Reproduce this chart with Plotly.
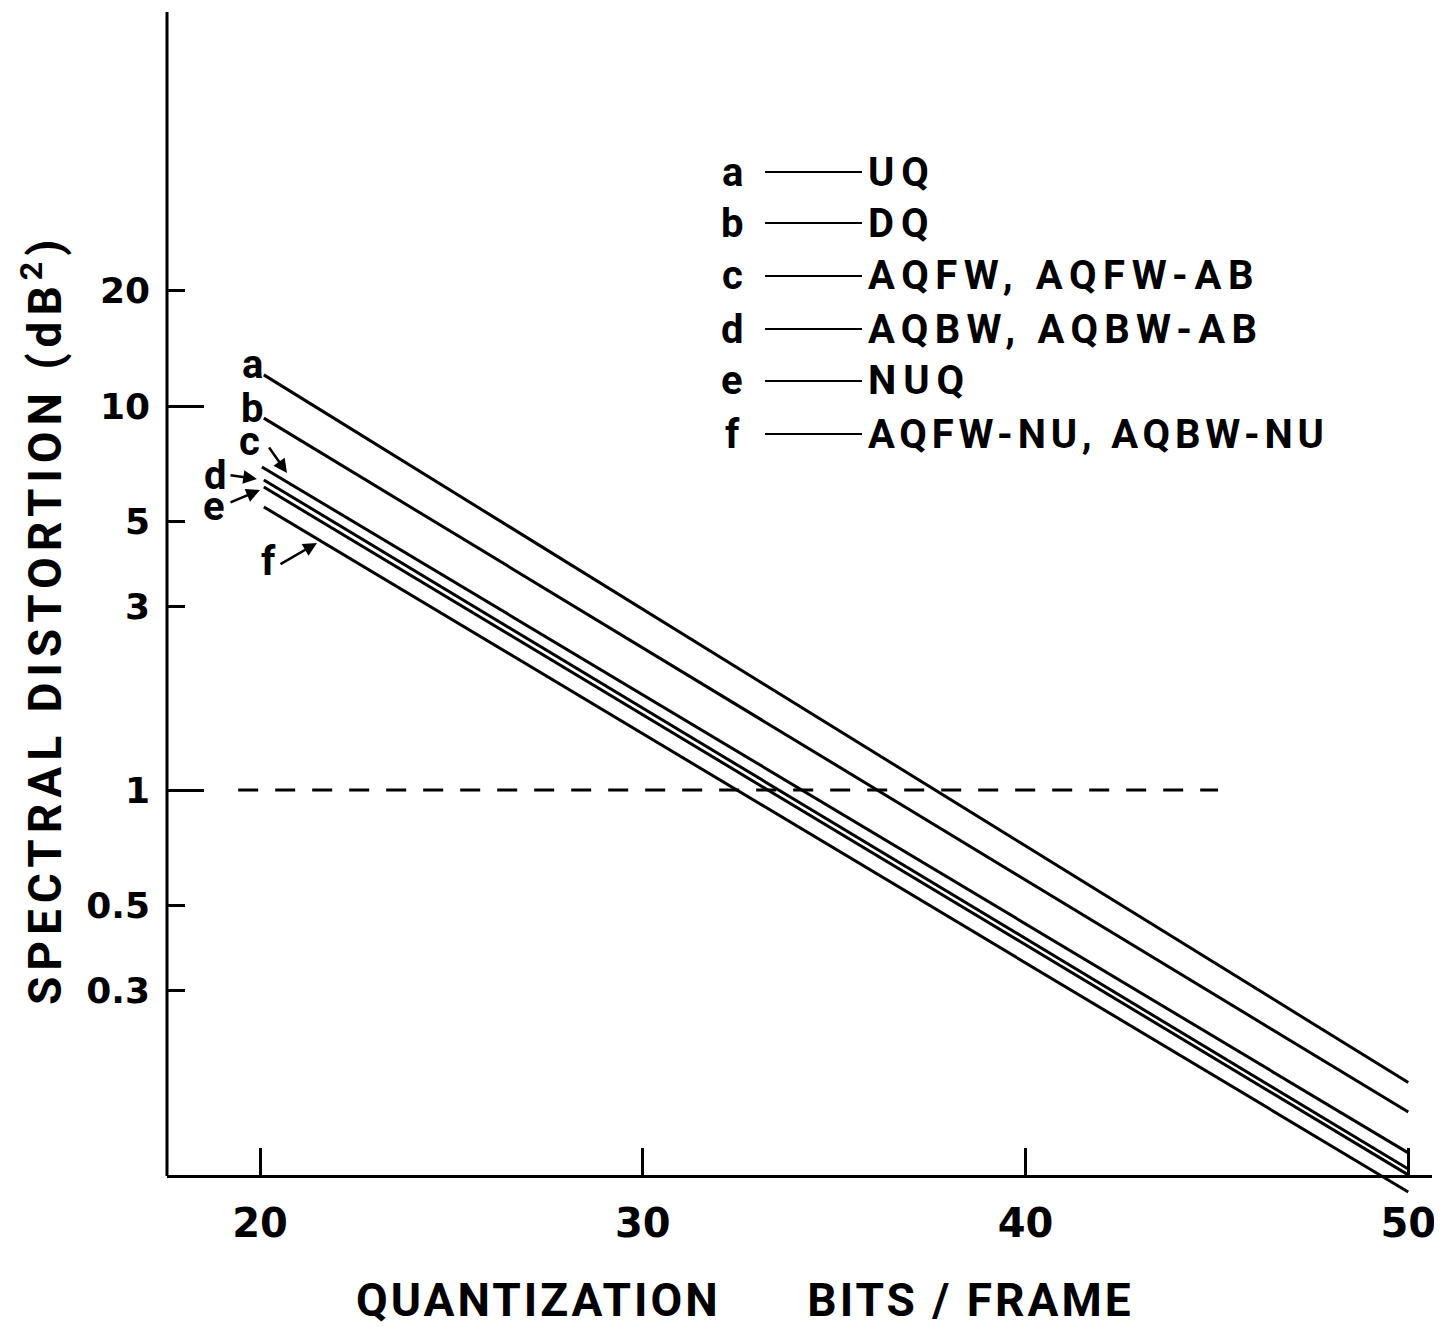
import math
import plotly.graph_objects as go

# ---------------- data ----------------
series_names = ["a", "b", "c", "d", "e", "f"]
series_x = [
    [20.1, 50.0],
    [20.1, 50.0],
    [20.05, 50.0],
    [20.1, 50.0],
    [20.1, 50.0],
    [20.1, 50.0],
]
series_y = [
    [12.05, 0.173],
    [9.3, 0.145],
    [6.94, 0.1135],
    [6.42, 0.103],
    [6.15, 0.0995],
    [5.46, 0.0898],
]
legend_letters = ["a", "b", "c", "d", "e", "f"]
legend_texts = ["UQ", "DQ", "AQFW, AQFW-AB", "AQBW, AQBW-AB", "NUQ", "AQFW-NU, AQBW-NU"]

ref_x = [19.43, 45.03]
ref_y = [1.0, 1.0]

x_tickvals = [20, 30, 40, 50]
x_ticktext = ["20", "30", "40", "50"]
y_tickvals = [0.3, 0.5, 1, 3, 5, 10, 20]
y_ticktext = ["0.3", "0.5", "1", "3", "5", "10", "20"]
y_long_ticks = [1, 10]

x_title = "QUANTIZATION\u00a0\u00a0\u00a0\u00a0\u00a0\u00a0BITS\u00a0/\u00a0FRAME"
y_title = "SPECTRAL\u00a0DISTORTION\u00a0(dB<sup>2</sup>)"

# ---------------- layout geometry ----------------
# the page body has an 8px margin, so screen coords = figure coords + 8
OFF = 8
W, H = 1442 - OFF, 1327 - OFF
PL, PR, PT, PB = 167, 1432, 12, 1195   # plot area in screen pixels
AXIS_Y_PX = 1176


def px(xp):
    return (xp - PL) / (PR - PL)


def py(yp):
    return (PB - yp) / (PB - PT)


X_RANGE = [17.57, 50.62]
Y_RANGE = [(790 - PB) / 384.0, (790 - PT) / 384.0]

TEXT_FONT = "Roboto, Liberation Sans, sans-serif"
NUM_FONT = "DejaVu Sans, Verdana, sans-serif"

fig = go.Figure()

for name, xs, ys in zip(series_names, series_x, series_y):
    fig.add_trace(go.Scatter(x=xs, y=ys, mode="lines", name=name,
                             line=dict(color="black", width=3), showlegend=False))

fig.add_trace(go.Scatter(x=ref_x, y=ref_y, mode="lines", showlegend=False,
                         line=dict(color="black", width=3, dash="20px,17px")))

# invisible trace to activate secondary y axis (long ticks)
fig.add_trace(go.Scatter(x=[None], y=[None], yaxis="y2", showlegend=False))

fig.update_layout(
    width=W, height=H,
    margin=dict(l=PL - OFF, r=(1442 - OFF) - (PR - OFF) - 0 if False else W - (PR - OFF),
                t=PT - OFF, b=H - (PB - OFF), autoexpand=False),
    paper_bgcolor="white", plot_bgcolor="white",
    xaxis=dict(
        range=X_RANGE, anchor="free", position=py(AXIS_Y_PX), automargin=False,
        showline=True, linecolor="black", linewidth=3,
        showgrid=False, zeroline=False,
        tickmode="array", tickvals=x_tickvals, ticktext=x_ticktext,
        ticks="inside", ticklen=27, tickwidth=3, tickcolor="black",
        ticklabelstandoff=11,
        tickfont=dict(family=NUM_FONT, size=40, color="black", weight="bold"),
    ),
    yaxis=dict(
        type="log", range=Y_RANGE, anchor="x", automargin=False,
        showline=False, showgrid=False, zeroline=False,
        tickmode="array", tickvals=y_tickvals, ticktext=y_ticktext,
        ticks="inside", ticklen=18, tickwidth=3, tickcolor="black",
        ticklabelstandoff=16,
        tickfont=dict(family=NUM_FONT, size=36, color="black", weight="bold"),
    ),
    yaxis2=dict(
        type="log", range=Y_RANGE, overlaying="y", anchor="x", side="left",
        automargin=False,
        showline=False, showgrid=False, zeroline=False,
        tickmode="array", tickvals=y_long_ticks, showticklabels=False,
        ticks="inside", ticklen=37, tickwidth=3, tickcolor="black",
    ),
)

# y axis line (stops at the x axis)
fig.add_shape(type="line", xref="paper", yref="paper",
              x0=0, x1=0, y0=py(AXIS_Y_PX), y1=1,
              line=dict(color="black", width=3))

annotations = []

# axis titles
annotations.append(dict(
    text=f'<span style="letter-spacing:3px">{x_title}</span>',
    xref="paper", yref="paper", x=px(745), y=py(1300),
    xanchor="center", yanchor="middle", showarrow=False,
    font=dict(family=TEXT_FONT, size=46, color="black", weight="bold")))
annotations.append(dict(
    text=f'<span style="letter-spacing:6px">{y_title}</span>',
    xref="paper", yref="paper", x=px(42), y=py(620), textangle=-90,
    xanchor="center", yanchor="middle", showarrow=False,
    font=dict(family=TEXT_FONT, size=46, color="black", weight="bold")))

# legend block
row_y = [172, 223, 276, 329, 381, 434]
row_spacing = [7, 7, 6.6, 6.3, 7, 4.8]
for letter, txt, ry, ls in zip(legend_letters, legend_texts, row_y, row_spacing):
    annotations.append(dict(
        text=letter, xref="paper", yref="paper", x=px(732), y=py(ry),
        xanchor="center", yanchor="middle", showarrow=False,
        font=dict(family=TEXT_FONT, size=40, color="black", weight="bold")))
    annotations.append(dict(
        text=f'<span style="letter-spacing:{ls}px">{txt}</span>',
        xref="paper", yref="paper", x=px(866), y=py(ry),
        xanchor="left", yanchor="middle", showarrow=False,
        font=dict(family=TEXT_FONT, size=40, color="black", weight="bold")))
    fig.add_shape(type="line", xref="paper", yref="paper",
                  x0=px(765), x1=px(862), y0=py(ry), y1=py(ry),
                  line=dict(color="black", width=2))

# curve labels
label_pos = {"a": (252, 364), "b": (252, 408), "c": (249, 441),
             "d": (215, 475), "e": (214, 507), "f": (268, 561)}
for letter, (lx, ly) in label_pos.items():
    annotations.append(dict(
        text=letter, xref="paper", yref="paper", x=px(lx), y=py(ly),
        xanchor="center", yanchor="middle", showarrow=False,
        font=dict(family=TEXT_FONT, size=40, color="black", weight="bold")))

# arrows: (tail, head) in pixels
arrows = [((268, 446), (287, 473)),
          ((229, 475), (257, 479)),
          ((229, 503), (260, 490)),
          ((279, 565), (317, 543))]
for (tx, ty), (hx, hy) in arrows:
    annotations.append(dict(
        text="", xref="paper", yref="paper", x=px(hx), y=py(hy),
        ax=tx - hx, ay=ty - hy, showarrow=True,
        arrowhead=2, arrowsize=1.1, arrowwidth=2.5, arrowcolor="black",
        standoff=0, startstandoff=0))

fig.update_layout(annotations=annotations)

fig.write_html("out.html")
